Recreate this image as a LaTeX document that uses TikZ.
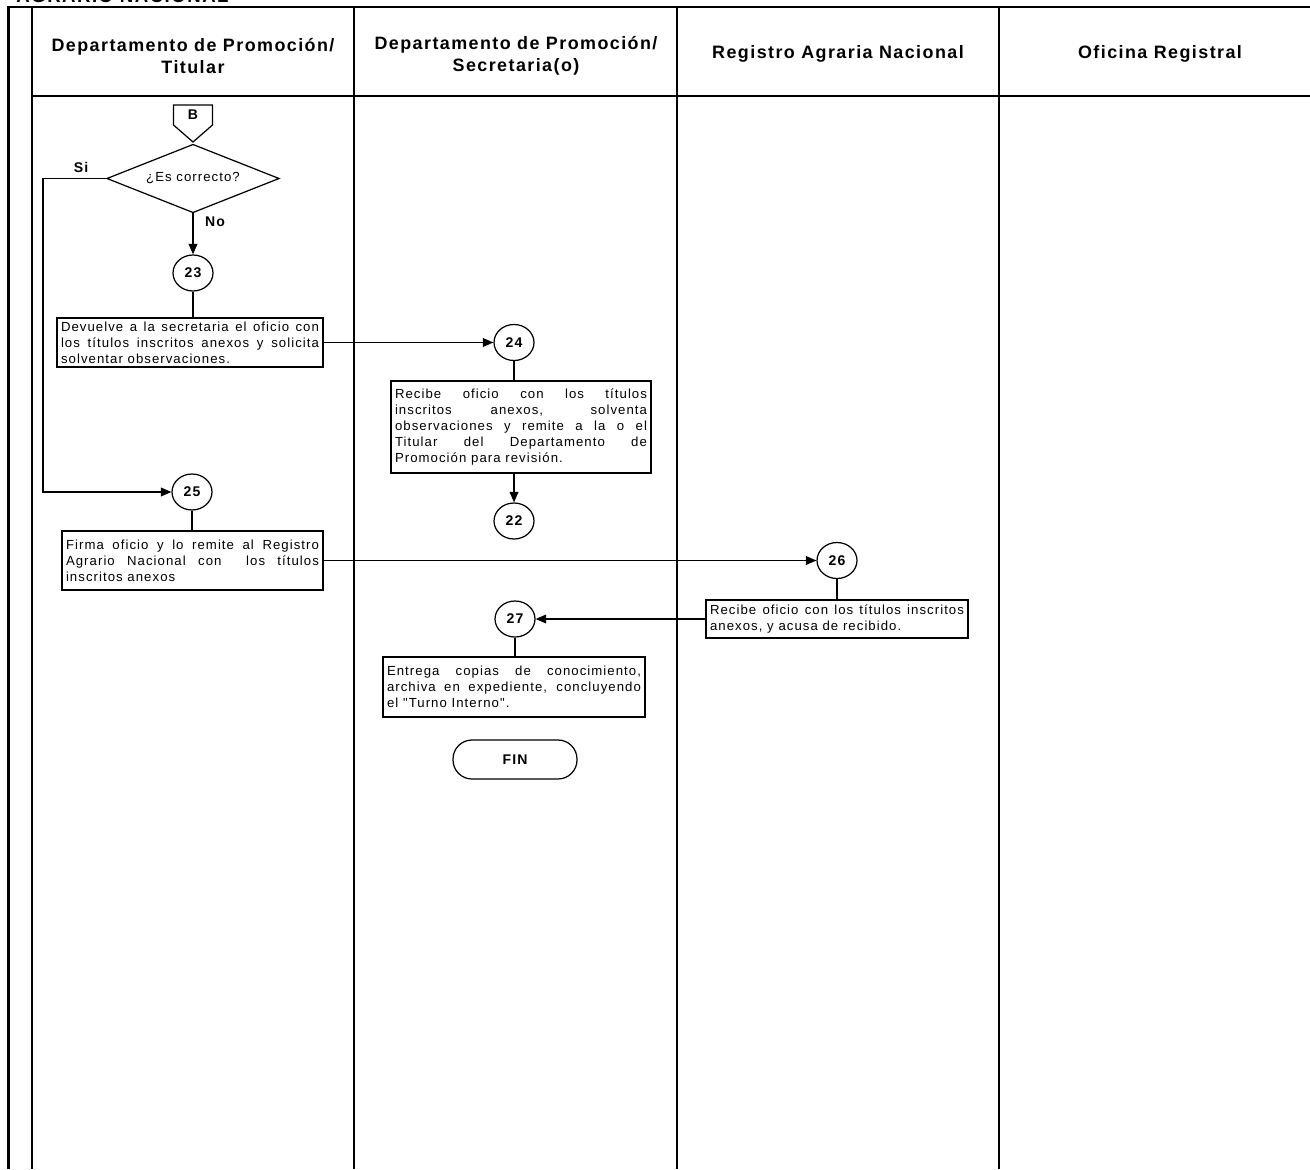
\documentclass[tikz,border=0pt]{standalone}
\usepackage{fontspec}
\setmainfont{Liberation Sans}
\newfontfamily\bodyfont{Liberation Sans}[LetterSpace=8]
\newfontfamily\hdrfont{Liberation Sans}[LetterSpace=8]
\usetikzlibrary{arrows.meta,shapes.geometric,calc}

\tikzset{
  lane/.style={line width=0.6pt},
  heavy/.style={line width=1.3pt},
  flow/.style={line width=0.7pt},
  arr/.style={flow,-{Triangle[length=6pt,width=5pt]}},
  stepnum/.style={ellipse, draw, line width=0.7pt, minimum width=0.8cm,
    minimum height=0.72cm, inner sep=0pt,
    font=\bodyfont\bfseries\fontsize{8}{9}\selectfont},
  task/.style={draw, line width=0.8pt, inner xsep=0.08cm, inner ysep=0pt,
    align=justify, font=\bodyfont\fontsize{7.5}{9}\selectfont},
  hdr/.style={align=center, font=\hdrfont\bfseries\fontsize{10.2}{12.3}\selectfont},
  lbl/.style={font=\bodyfont\bfseries\fontsize{8}{9}\selectfont, inner sep=0pt},
}

\begin{document}
\begin{tikzpicture}[x=0.02cm, y=-0.02cm]
\useasboundingbox (0,0) rectangle (1310,1169);

% frame and swimlanes
\draw[heavy] (8.5,1169) -- (8.5,7) -- (1310,7);
\draw[line width=0.8pt] (32,7) -- (32,1169);
\draw[heavy] (32,96) -- (1310,96);
\foreach \x in {354,677,999} \draw[lane] (\x,7) -- (\x,1169);

\node[anchor=base west, inner sep=0pt, font=\hdrfont\bfseries\fontsize{10.6}{12}\selectfont]
  (title) at (16,3) {AGRARIO NACIONAL};

% lane headers
\node[hdr] (h1) at (193,56) {Departamento de Promoción/\\Titular};
\node[hdr] (h2) at (516,56) {Departamento de Promoción/\\Secretaria(o)};
\node[hdr] (h3) at (838,54) {Registro Agraria Nacional};
\node[hdr] (h4) at (1160,54) {Oficina Registral};

% off-page connector
\node[lbl] (B) at (193,115) {B};
\draw[flow] ($(B)+(-19.5,-10)$) -- ($(B)+(19.5,-10)$) -- ($(B)+(19.5,10)$)
  -- ($(B)+(0,27)$) -- ($(B)+(-19.5,10)$) -- cycle;

% decision
\node[inner sep=0pt, font=\bodyfont\fontsize{7.5}{8}\selectfont] (dec) at (193,178.5) {¿Es correcto?};
\coordinate (decW) at ($(dec)+(-86,0)$);
\coordinate (decE) at ($(dec)+(86,0)$);
\coordinate (decN) at ($(dec)+(0,-34)$);
\coordinate (decS) at ($(dec)+(0,34)$);
\draw[flow] (decW) -- (decN) -- (decE) -- (decS) -- cycle;

% steps
\node[stepnum] (c23) at (193,273) {23};
\node[task, text width=5.16cm, minimum height=0.98cm] (b23) at (190,342.5)
  {Devuelve a la secretaria el oficio con\linebreak los títulos inscritos anexos y solicita\linebreak solventar observaciones.};

\node[stepnum] (c24) at (514,342.5) {24};
\node[task, text width=5.04cm, minimum height=1.84cm] (b24) at (521,427)
  {Recibe oficio con los títulos\linebreak inscritos anexos, solventa\linebreak observaciones y remite a la o el\linebreak Titular del Departamento de\linebreak Promoción para revisión.};
\node[stepnum] (c22) at (514,521) {22};

\node[stepnum] (c25) at (192,492) {25};
\node[task, text width=5.06cm, minimum height=1.18cm] (b25) at (192.5,560.5)
  {Firma oficio y lo remite al Registro\linebreak Agrario Nacional con\ \ los títulos\linebreak inscritos anexos};

\node[stepnum] (c26) at (837,560.5) {26};
\node[task, text width=5.08cm, minimum height=0.76cm] (b26) at (837,619)
  {Recibe oficio con los títulos inscritos\linebreak anexos, y acusa de recibido.};

\node[stepnum] (c27) at (515,619) {27};
\node[task, text width=5.08cm, minimum height=1.2cm] (b27) at (514,687)
  {Entrega copias de conocimiento,\linebreak archiva en expediente, concluyendo\linebreak el "Turno Interno".};

\node[draw, flow, rounded corners=0.38cm, minimum width=2.48cm, minimum height=0.78cm,
  font=\bodyfont\bfseries\fontsize{8}{9}\selectfont] (fin) at (515,759.5) {FIN};

% connectors
\coordinate (siturn) at (43,178.5);
\draw[arr] (decW) -- (siturn) |- (c25.west);
\node[lbl] (si) at (81,167) {Si};
\draw[arr] (decS) -- (c23.north);
\node[lbl] (no) at (215,222) {No};
\draw[flow] (c23.south) -- (c23 |- b23.north);
\draw[arr] (b23.east) -- (c24.west);
\draw[flow] (c24.south) -- (c24 |- b24.north);
\draw[arr] (c24 |- b24.south) -- (c22.north);
\draw[flow] (c25.south) -- (c25 |- b25.north);
\draw[arr] (b25.east) -- (c26.west);
\draw[flow] (c26.south) -- (b26.north);
\draw[arr] (b26.west) -- (c27.east);
\draw[flow] (c27.south) -- (c27 |- b27.north);
\end{tikzpicture}
\end{document}
